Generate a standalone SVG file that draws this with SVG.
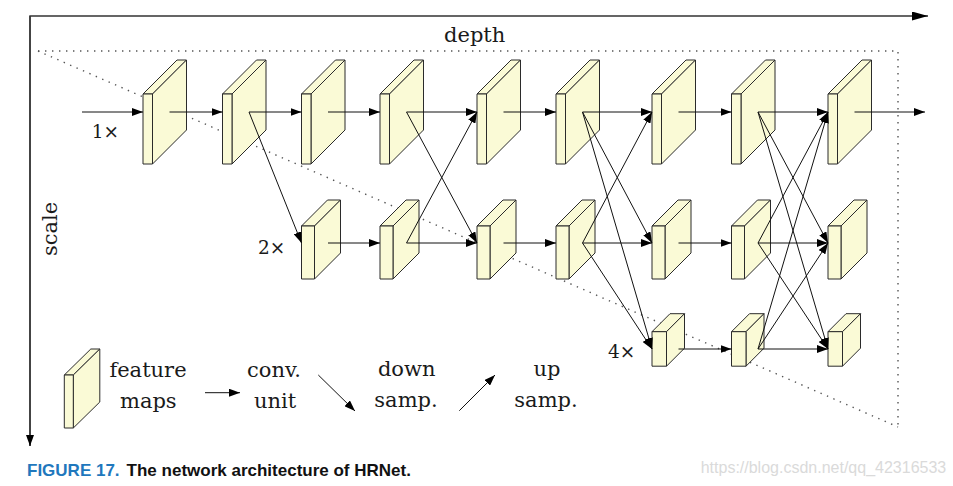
<svg xmlns="http://www.w3.org/2000/svg" width="953" height="486" viewBox="0 0 953 486">
<style>
.face{fill:#FAFAD6;stroke:#2b2b2b;stroke-width:1;stroke-linejoin:round}
.conn line{stroke:#111;stroke-width:1;fill:none;marker-end:url(#ah)}
.dot{stroke:#555;stroke-width:1.4;stroke-dasharray:1.4 5.6;fill:none}
.axis{stroke:#333;stroke-width:1.4;fill:none}
.lbl{font-family:"DejaVu Serif","Liberation Serif",serif;fill:#1a1a1a}
.big{font-size:21px;text-anchor:middle}
.row{font-size:18.5px}
</style>
<defs>
<marker id="ah" markerUnits="userSpaceOnUse" markerWidth="11" markerHeight="8" viewBox="0 0 11 8" refX="11" refY="4" orient="auto"><path d="M0,0 L11,4 L0,8 Z" fill="#000"/></marker>
<marker id="ahx" markerUnits="userSpaceOnUse" markerWidth="16" markerHeight="9" viewBox="0 0 16 9" refX="16" refY="4.5" orient="auto"><path d="M0,0 L16,4.5 L0,9 Z" fill="#000"/></marker>
<marker id="ahv" markerUnits="userSpaceOnUse" markerWidth="11" markerHeight="8" viewBox="0 0 11 8" refX="11" refY="4" orient="auto"><path d="M0,0 L11,4 L0,8 Z" fill="#000"/></marker>
<g id="blk1"><path class="face" d="M0,0 L34,-34 L43.5,-34 L9.5,0 Z"/><path class="face" d="M9.5,0 L43.5,-34 L43.5,36 L9.5,70 Z"/><rect class="face" x="0" y="0" width="9.5" height="70"/></g>
<g id="blk2"><path class="face" d="M0,0 L26,-26 L39,-26 L13,0 Z"/><path class="face" d="M13,0 L39,-26 L39,27 L13,53 Z"/><rect class="face" x="0" y="0" width="13" height="53"/></g>
<g id="blk3"><path class="face" d="M0,0 L18,-18 L32.5,-18 L14.5,0 Z"/><path class="face" d="M14.5,0 L32.5,-18 L32.5,16.5 L14.5,34.5 Z"/><rect class="face" x="0" y="0" width="14.5" height="34.5"/></g>
<g id="blkL"><path class="face" d="M0,0 L26.5,-26 L35.5,-26 L9,0 Z"/><path class="face" d="M9,0 L35.5,-26 L35.5,27 L9,53 Z"/><rect class="face" x="0" y="0" width="9" height="53"/></g>
</defs>
<rect width="953" height="486" fill="#fff"/>

<g id="axes">
<path class="axis" d="M30,446 L30,16 L928,16" marker-end="url(#ahx)"/>
<line class="axis" x1="30" y1="16" x2="30" y2="446" marker-end="url(#ahv)"/>
<text class="lbl big" x="474.7" y="42">depth</text>
<text class="lbl big" transform="translate(57,229) rotate(-90)">scale</text>
</g>

<g id="region">
<path class="dot" d="M38,51 L898,51 L898,427"/>
<line class="dot" x1="38" y1="51" x2="898" y2="427"/>
</g>

<g id="row1">
<g id="r1b1"><use href="#blk1" x="143" y="94"/></g>
<g id="r1b2"><use href="#blk1" x="222.5" y="94"/></g>
<g id="r1b3"><use href="#blk1" x="301.5" y="94"/></g>
<g id="r1b4"><use href="#blk1" x="380" y="94"/></g>
<g id="r1b5"><use href="#blk1" x="477" y="94"/></g>
<g id="r1b6"><use href="#blk1" x="556" y="94"/></g>
<g id="r1b7"><use href="#blk1" x="652" y="94"/></g>
<g id="r1b8"><use href="#blk1" x="731.5" y="94"/></g>
<g id="r1b9"><use href="#blk1" x="828" y="94"/></g>
</g>
<g id="row2">
<g id="r2b3"><use href="#blk2" x="301.5" y="226"/></g>
<g id="r2b4"><use href="#blk2" x="380" y="226"/></g>
<g id="r2b5"><use href="#blk2" x="477" y="226"/></g>
<g id="r2b6"><use href="#blk2" x="556" y="226"/></g>
<g id="r2b7"><use href="#blk2" x="652" y="226"/></g>
<g id="r2b8"><use href="#blk2" x="731.5" y="226"/></g>
<g id="r2b9"><use href="#blk2" x="828" y="226"/></g>
</g>
<g id="row3">
<g id="r3b7"><use href="#blk3" x="652" y="331.7"/></g>
<g id="r3b8"><use href="#blk3" x="731.5" y="331.7"/></g>
<g id="r3b9"><use href="#blk3" x="828" y="331.7"/></g>
</g>

<g id="rowlabels">
<text class="lbl row" x="91.7" y="138">1×</text>
<text class="lbl row" x="258" y="253.5">2×</text>
<text class="lbl row" x="608" y="357.5">4×</text>
</g>

<g id="connectors" class="conn">
<line x1="82" y1="112" x2="143" y2="112"/>
<line x1="169.5" y1="112" x2="222.5" y2="112"/>
<line x1="249" y1="112" x2="301.5" y2="112"/>
<line x1="328" y1="112" x2="380" y2="112"/>
<line x1="406.5" y1="112" x2="477" y2="112"/>
<line x1="503.5" y1="112" x2="556" y2="112"/>
<line x1="582.5" y1="112" x2="652" y2="112"/>
<line x1="678.5" y1="112" x2="731.5" y2="112"/>
<line x1="758" y1="112" x2="828" y2="112"/>
<line x1="854.5" y1="112" x2="925" y2="112"/>
<line x1="328" y1="243" x2="380" y2="243"/>
<line x1="406.5" y1="243" x2="477" y2="243"/>
<line x1="503.5" y1="243" x2="556" y2="243"/>
<line x1="582.5" y1="243" x2="652" y2="243"/>
<line x1="678.5" y1="243" x2="731.5" y2="243"/>
<line x1="758" y1="243" x2="828" y2="243"/>
<line x1="678.5" y1="349" x2="731.5" y2="349"/>
<line x1="758" y1="349" x2="828" y2="349"/>
<line x1="249" y1="112" x2="301.5" y2="243"/>
<line x1="406.5" y1="112" x2="477" y2="243"/>
<line x1="406.5" y1="243" x2="477" y2="112"/>
<line x1="582.5" y1="112" x2="652" y2="243"/>
<line x1="582.5" y1="112" x2="652" y2="349"/>
<line x1="582.5" y1="243" x2="652" y2="112"/>
<line x1="582.5" y1="243" x2="652" y2="349"/>
<line x1="758" y1="112" x2="828" y2="243"/>
<line x1="758" y1="112" x2="828" y2="349"/>
<line x1="758" y1="243" x2="828" y2="112"/>
<line x1="758" y1="243" x2="828" y2="349"/>
<line x1="758" y1="349" x2="828" y2="112"/>
<line x1="758" y1="349" x2="828" y2="243"/>
</g>

<g id="legend">
<g id="legend-block"><use href="#blkL" x="64.3" y="375"/></g>
<text class="lbl big" x="148" y="376.7">feature</text>
<text class="lbl big" x="148.3" y="408.3">maps</text>
<g class="conn">
<line x1="205" y1="392.7" x2="240" y2="392.7"/>
<line x1="318.3" y1="375" x2="355" y2="411"/>
<line x1="459.3" y1="410.7" x2="495" y2="375"/>
</g>
<text class="lbl big" x="274" y="376.7">conv.</text>
<text class="lbl big" x="275" y="408.3">unit</text>
<text class="lbl big" x="406.7" y="376">down</text>
<text class="lbl big" x="406" y="406.7">samp.</text>
<text class="lbl big" x="547" y="376">up</text>
<text class="lbl big" x="546" y="406.7">samp.</text>
</g>

<g id="caption">
<text x="27" y="476" font-family="Liberation Sans, Arial, sans-serif" font-weight="bold" font-size="17"><tspan fill="#1f78bd">FIGURE 17.</tspan><tspan fill="#111" dx="7">The network architecture of HRNet.</tspan></text>
<text x="700.7" y="473.3" font-family="Liberation Sans, Arial, sans-serif" font-size="16" fill="#dadada">https://blog.csdn.net/qq_42316533</text>
</g>
</svg>
